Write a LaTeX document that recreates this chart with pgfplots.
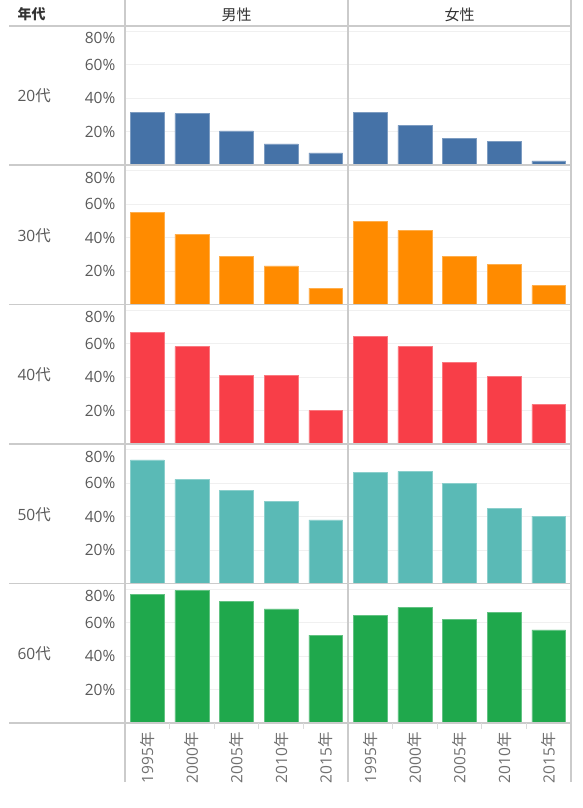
\documentclass[border=0pt]{standalone}
\usepackage{pgfplots}
\pgfplotsset{compat=1.18}
\usepackage{fontspec}
\setmainfont{Open Sans}
\newfontfamily\cjk{Noto Sans CJK JP}
\definecolor{cblue}{HTML}{4572A7}
\definecolor{corange}{HTML}{FF8B00}
\definecolor{cred}{HTML}{F83E48}
\definecolor{cteal}{HTML}{5ABAB6}
\definecolor{cgreen}{HTML}{1FA84C}
\definecolor{txt}{HTML}{5A5A5A}
\definecolor{xtxt}{HTML}{707070}
\definecolor{hdr}{HTML}{333333}
\definecolor{gridc}{HTML}{F0F0F0}
\definecolor{linec}{HTML}{CBCBCB}
\newcommand\fs{\fontsize{15.5}{18}\selectfont}

\pgfplotsset{
  panel/.style={
    scale only axis, width=223pt, height=139.5pt, anchor=south west,
    xmin=-0.5, xmax=4.5, ymin=0, ymax=83.3,
    ybar, bar width=0.76,
    axis line style={draw=none},
    xtick={0,1,2,3,4}, xticklabels={}, xtick style={draw=none},
    ytick={20,40,60,80}, ytick style={draw=none},
    ymajorgrids, grid style={gridc, line width=0.9pt},
    tick label style={font=\fs, text=txt},
    yticklabel style={inner sep=0pt, anchor=east, xshift=-9.5pt},
    clip=false,
  },
  male/.style={
    yticklabels={20\%,40\%,60\%,{}},
    extra y ticks={75.6}, extra y tick labels={80\%},
    extra y tick style={grid=none},
  },
  female/.style={yticklabels={}},
  bottom/.style={
    xticklabels={1995{\cjk 年},2000{\cjk 年},2005{\cjk 年},2010{\cjk 年},2015{\cjk 年}},
    xticklabel style={rotate=90, anchor=east, inner sep=0pt, text=xtxt},
    xticklabel shift=5pt,
  },
}
\newcommand\panel[5]{%
  \begin{axis}[panel, at={(#1pt,#2pt)}, #5]
    \addplot[fill=#3, draw=#3!70!white, line width=0.5pt] coordinates {#4};
  \end{axis}}

\begin{document}
\begin{tikzpicture}[x=1pt,y=1pt]
\useasboundingbox (0,0) rectangle (583,808);

% 20s
\panel{125}{643}{cblue}{(0,31.4) (1,30.6) (2,20.4) (3,12.6) (4,7.2)}{male}
\panel{348}{643}{cblue}{(0,31.4) (1,23.6) (2,15.8) (3,14.2) (4,2.4)}{female}
% 30s
\panel{125}{503.5}{corange}{(0,55.2) (1,41.8) (2,28.6) (3,23.0) (4,9.8)}{male}
\panel{348}{503.5}{corange}{(0,49.8) (1,44.2) (2,28.6) (3,23.8) (4,11.2)}{female}
% 40s
\panel{125}{364}{cred}{(0,66.8) (1,58.2) (2,41.0) (3,41.0) (4,20.0)}{male}
\panel{348}{364}{cred}{(0,64.4) (1,58.2) (2,48.8) (3,40.2) (4,23.6)}{female}
% 50s
\panel{125}{224.5}{cteal}{(0,73.8) (1,62.2) (2,55.8) (3,49.0) (4,38.0)}{male}
\panel{348}{224.5}{cteal}{(0,66.2) (1,67.0) (2,60.0) (3,45.0) (4,40.2)}{female}
% 60s
\panel{125}{85}{cgreen}{(0,76.8) (1,79.2) (2,72.8) (3,68.2) (4,52.4)}{male,bottom}
\panel{348}{85}{cgreen}{(0,64.2) (1,69.0) (2,62.0) (3,66.0) (4,55.6)}{female,bottom}

% frame lines
\foreach \xx in {125,348,571} \draw[linec, line width=1.2pt] (\xx,808) -- (\xx,26);
\foreach \yy in {782,643,503.5,364,224.5,85} \draw[linec, line width=1.4pt] (9,\yy) -- (571,\yy);
\foreach \xx in {169.6,214.2,258.8,303.4,392.6,437.2,481.8,526.4} \draw[linec!70!white, line width=0.8pt] (\xx,85) -- (\xx,79);

% headers
\node[anchor=west, text=hdr, font=\cjk\bfseries\fontsize{14}{16}\selectfont] at (14,794) {年代};
\node[text=hdr, font=\cjk\fontsize{15}{18}\selectfont] at (236.5,793) {男性};
\node[text=hdr, font=\cjk\fontsize{15}{18}\selectfont] at (459.5,793) {女性};
% row labels
\node[anchor=west, text=txt, font=\fs] at (14,712) {20{\cjk 代}};
\node[anchor=west, text=txt, font=\fs] at (14,572.5) {30{\cjk 代}};
\node[anchor=west, text=txt, font=\fs] at (14,433) {40{\cjk 代}};
\node[anchor=west, text=txt, font=\fs] at (14,293.5) {50{\cjk 代}};
\node[anchor=west, text=txt, font=\fs] at (14,154) {60{\cjk 代}};
\end{tikzpicture}
\end{document}
